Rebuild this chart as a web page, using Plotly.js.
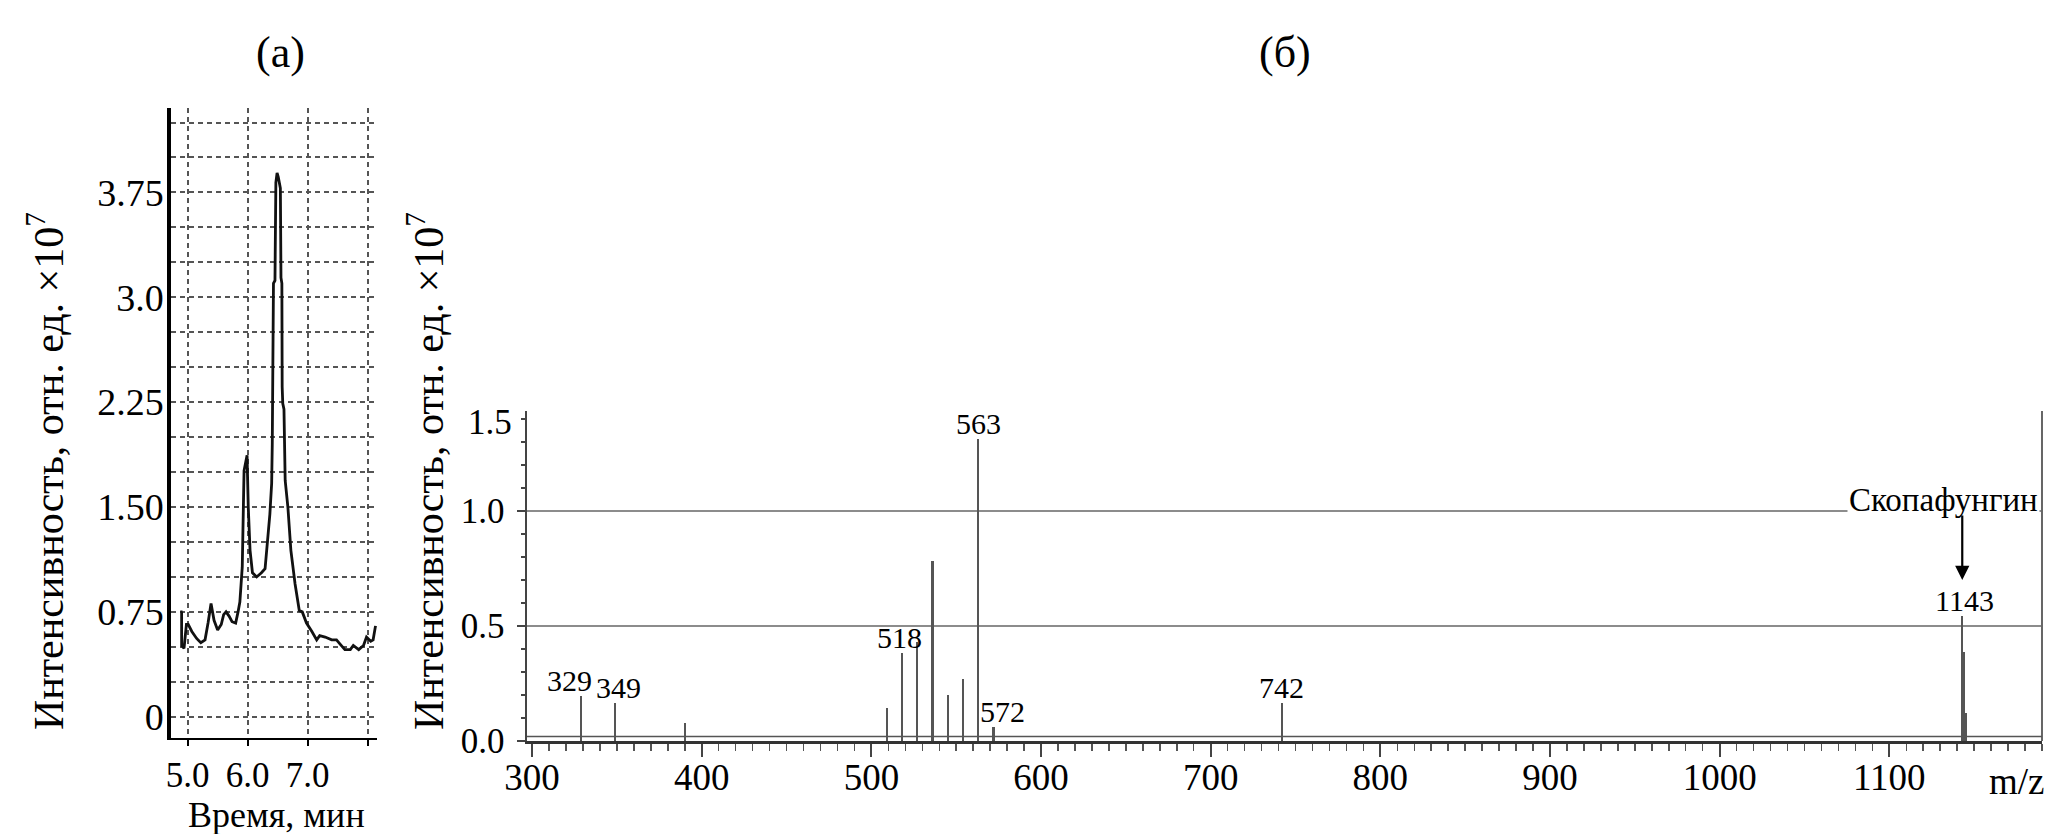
<!DOCTYPE html>
<html>
<head>
<meta charset="utf-8">
<script src="https://cdn.plot.ly/plotly-3.0.1.min.js"></script>
<style>html,body{margin:0;padding:0;background:#fff;}#chart{width:2067px;height:834px;}</style>
</head>
<body>
<div id="chart"></div>
<script>
// ---- Panel (а): chromatogram ----
const timeMin = [4.915, 4.90, 4.90, 4.94, 4.98, 5.01, 5.07, 5.15, 5.22, 5.29, 5.34, 5.39, 5.44, 5.50, 5.56, 5.60, 5.64, 5.69, 5.74, 5.80, 5.84, 5.87, 5.91, 5.94, 5.99, 6.01, 6.04, 6.08, 6.15, 6.23, 6.29, 6.33, 6.37, 6.40, 6.41, 6.43, 6.455, 6.47, 6.49, 6.51, 6.545, 6.555, 6.57, 6.575, 6.585, 6.605, 6.615, 6.625, 6.67, 6.72, 6.79, 6.86, 6.91, 6.98, 7.07, 7.15, 7.20, 7.29, 7.40, 7.48, 7.54, 7.62, 7.71, 7.76, 7.85, 7.93, 7.98, 8.05, 8.09, 8.13];
const intensityA = [0.75, 0.75, 0.51, 0.49, 0.66, 0.66, 0.61, 0.56, 0.53, 0.55, 0.67, 0.81, 0.69, 0.62, 0.66, 0.73, 0.75, 0.72, 0.68, 0.67, 0.75, 0.82, 1.07, 1.76, 1.87, 1.50, 1.19, 1.03, 1.00, 1.03, 1.06, 1.26, 1.45, 1.67, 1.95, 3.10, 3.12, 3.82, 3.89, 3.86, 3.78, 3.14, 3.10, 2.36, 2.24, 2.20, 1.91, 1.69, 1.50, 1.19, 0.95, 0.76, 0.75, 0.67, 0.61, 0.55, 0.58, 0.57, 0.55, 0.55, 0.52, 0.48, 0.48, 0.51, 0.48, 0.51, 0.57, 0.54, 0.55, 0.65];
const yTicksA = [0, 0.75, 1.5, 2.25, 3.0, 3.75];
const yTickTextA = ['0', '0.75', '1.50', '2.25', '3.0', '3.75'];
const xTicksA = [5, 6, 7];
const xTickTextA = ['5.0', '6.0', '7.0'];

// ---- Panel (б): mass spectrum ----
const mz = [329, 349, 390, 509, 518, 527, 536, 545, 554, 563, 572, 742, 1143, 1144, 1145];
const intensityB = [0.196, 0.164, 0.077, 0.142, 0.381, 0.432, 0.784, 0.200, 0.268, 1.312, 0.060, 0.164, 0.543, 0.388, 0.123];
const labeledMz = [329, 349, 518, 563, 572, 742, 1143];
const xTicksB = [300, 400, 500, 600, 700, 800, 900, 1000, 1100];
const xTickTextB = ['300', '400', '500', '600', '700', '800', '900', '1000', '1100'];
const yTicksB = [0, 0.5, 1.0];
const yTickTextB = ['0.0', '0.5', '1.0'];

const SERIF = '"Liberation Serif", "Times New Roman", serif';
const labelShift = {329: -12, 349: 3, 518: -2, 563: 0, 572: 9, 742: 0, 1143: 2};

const traces = [
  {x: timeMin, y: intensityA, type: 'scatter', mode: 'lines', xaxis: 'x', yaxis: 'y',
   line: {color: '#111', width: 2.8}, hoverinfo: 'skip'},
  {x: mz, y: intensityB, type: 'bar', xaxis: 'x2', yaxis: 'y2', width: 1.3,
   marker: {color: '#555', line: {width: 0}}, hoverinfo: 'skip'}
];

const annotations = [];
labeledMz.forEach(function (m) {
  const v = intensityB[mz.indexOf(m)];
  annotations.push({x: m, y: v, xref: 'x2', yref: 'y2', text: String(m), showarrow: false,
    xanchor: 'center', yanchor: 'bottom', yshift: -3, xshift: labelShift[m],
    font: {family: SERIF, size: 30, color: '#000'}});
});
annotations.push(
  {x: 1143, y: 1.05, xref: 'x2', yref: 'y2', text: 'Скопафунгин', showarrow: false,
   xanchor: 'center', yanchor: 'middle', xshift: -19, bgcolor: '#fff',
   font: {family: SERIF, size: 33, color: '#000'}},
  {x: 1143, y: 0.70, xref: 'x2', yref: 'y2', text: '', showarrow: true, ax: 0, ay: -66,
   arrowhead: 2, arrowsize: 1.3, arrowwidth: 2.2, arrowcolor: '#000', standoff: 0},
  {x: 0.1355, y: 0.9365, xref: 'paper', yref: 'paper', text: '(а)', showarrow: false,
   xanchor: 'center', yanchor: 'middle', font: {family: SERIF, size: 44, color: '#000'}},
  {x: 0.6217, y: 0.9365, xref: 'paper', yref: 'paper', text: '(б)', showarrow: false,
   xanchor: 'center', yanchor: 'middle', font: {family: SERIF, size: 44, color: '#000'}},
  {x: 0.0223, y: 0.4353, xref: 'paper', yref: 'paper', textangle: -90,
   text: 'Интенсивность, отн. ед. ×10<sup>7</sup>', showarrow: false,
   xanchor: 'center', yanchor: 'middle', font: {family: SERIF, size: 42, color: '#000'}},
  {x: 0.2061, y: 0.4353, xref: 'paper', yref: 'paper', textangle: -90,
   text: 'Интенсивность, отн. ед. ×10<sup>7</sup>', showarrow: false,
   xanchor: 'center', yanchor: 'middle', font: {family: SERIF, size: 42, color: '#000'}},
  {x: 0.1338, y: 0.0228, xref: 'paper', yref: 'paper', text: 'Время, мин', showarrow: false,
   xanchor: 'center', yanchor: 'middle', borderpad: 0,
   font: {family: SERIF, size: 36, color: '#000'}},
  {x: 0.9758, y: 0.0624, xref: 'paper', yref: 'paper', text: 'm/z', showarrow: false,
   xanchor: 'center', yanchor: 'middle', font: {family: SERIF, size: 37, color: '#000'}},
  // "1.5" label at the top of the spectrum intensity axis, as placed in the original figure
  {x: 0, y: 1, xref: 'x2 domain', yref: 'y2 domain', text: '1.5', showarrow: false,
   xanchor: 'right', yanchor: 'middle', xshift: -13, yshift: -11,
   font: {family: SERIF, size: 35, color: '#000'}}
);

const shapes = [
  // right frame of spectrum panel
  {type: 'line', xref: 'x2 domain', yref: 'y2 domain', x0: 1, x1: 1, y0: 0, y1: 1,
   line: {color: '#666', width: 2}},
  // inner baseline of spectrum panel
  {type: 'line', xref: 'x2 domain', yref: 'y2', x0: 0, x1: 1, y0: 0.02, y1: 0.02,
   line: {color: '#555', width: 1.5}}
];

const gridDash = '5px,4px';
const layout = {
  width: 2067, height: 834,
  margin: {l: 0, r: 0, t: 0, b: 0},
  paper_bgcolor: '#fff', plot_bgcolor: '#fff',
  showlegend: false,
  bargap: 0,
  xaxis: {
    domain: [0.0827, 0.1824], range: [4.722, 8.155], anchor: 'y',
    tickmode: 'array', tickvals: xTicksA, ticktext: xTickTextA,
    showline: true, linecolor: '#000', linewidth: 2,
    ticks: 'outside', ticklen: 6, tickwidth: 2, tickcolor: '#000',
    ticklabelstandoff: -1,
    showgrid: true, gridcolor: '#555', gridwidth: 2, griddash: gridDash,
    minor: {tickmode: 'linear', tick0: 5, dtick: 1, showgrid: true, gridcolor: '#555',
            gridwidth: 2, griddash: gridDash, ticks: 'outside', ticklen: 6, tickwidth: 2,
            tickcolor: '#000'},
    zeroline: false,
    tickfont: {family: SERIF, size: 35, color: '#000'}
  },
  yaxis: {
    domain: [0.1151, 0.8705], range: [-0.152, 4.354], anchor: 'x',
    tickmode: 'array', tickvals: yTicksA, ticktext: yTickTextA,
    showline: true, linecolor: '#000', linewidth: 3.5,
    ticks: '', ticklen: 0, ticklabelstandoff: -4,
    showgrid: true, gridcolor: '#555', gridwidth: 2, griddash: gridDash,
    minor: {tickmode: 'linear', tick0: 0, dtick: 0.25, showgrid: true,
            gridcolor: '#555', gridwidth: 2, griddash: gridDash, ticks: ''},
    zeroline: false,
    tickfont: {family: SERIF, size: 38, color: '#000'}
  },
  xaxis2: {
    domain: [0.25496, 0.98790], range: [297, 1190], anchor: 'y2',
    tickmode: 'array', tickvals: xTicksB, ticktext: xTickTextB,
    showline: true, linecolor: '#333', linewidth: 2.5,
    ticks: 'outside', ticklen: 13, tickwidth: 2, tickcolor: '#444',
    ticklabelstandoff: -11,
    minor: {tickmode: 'linear', tick0: 300, dtick: 10, ticks: 'outside', ticklen: 7,
            tickwidth: 1.5, tickcolor: '#555', showgrid: false},
    showgrid: false,
    zeroline: false,
    tickfont: {family: SERIF, size: 37, color: '#000'}
  },
  // overlay axis carrying the 50-unit major ticks and vertical grid lines of the spectrum
  xaxis3: {
    overlaying: 'x2', anchor: 'y2', range: [297, 1190],
    tickmode: 'linear', tick0: 300, dtick: 50,
    ticks: 'outside', ticklen: 13, tickwidth: 2, tickcolor: '#444',
    showticklabels: false, showline: false, zeroline: false,
    showgrid: true, gridcolor: '#d6d6d6', gridwidth: 1.2
  },
  yaxis2: {
    domain: [0.11151, 0.50719], range: [0, 1.4348], anchor: 'x2',
    tickmode: 'array', tickvals: yTicksB, ticktext: yTickTextB,
    showline: true, linecolor: '#444', linewidth: 2.5,
    ticks: 'outside', ticklen: 8, tickwidth: 2, tickcolor: '#444',
    ticklabelstandoff: 5,
    minor: {tickmode: 'linear', tick0: 0, dtick: 0.1, ticks: 'outside', ticklen: 4,
            tickwidth: 2, tickcolor: '#444', showgrid: false},
    showgrid: true, gridcolor: '#8c8c8c', gridwidth: 1.5,
    zeroline: false,
    tickfont: {family: SERIF, size: 35, color: '#000'}
  },
  annotations: annotations,
  shapes: shapes
};

Plotly.newPlot('chart', traces, layout, {staticPlot: true, displayModeBar: false});
</script>
</body>
</html>
